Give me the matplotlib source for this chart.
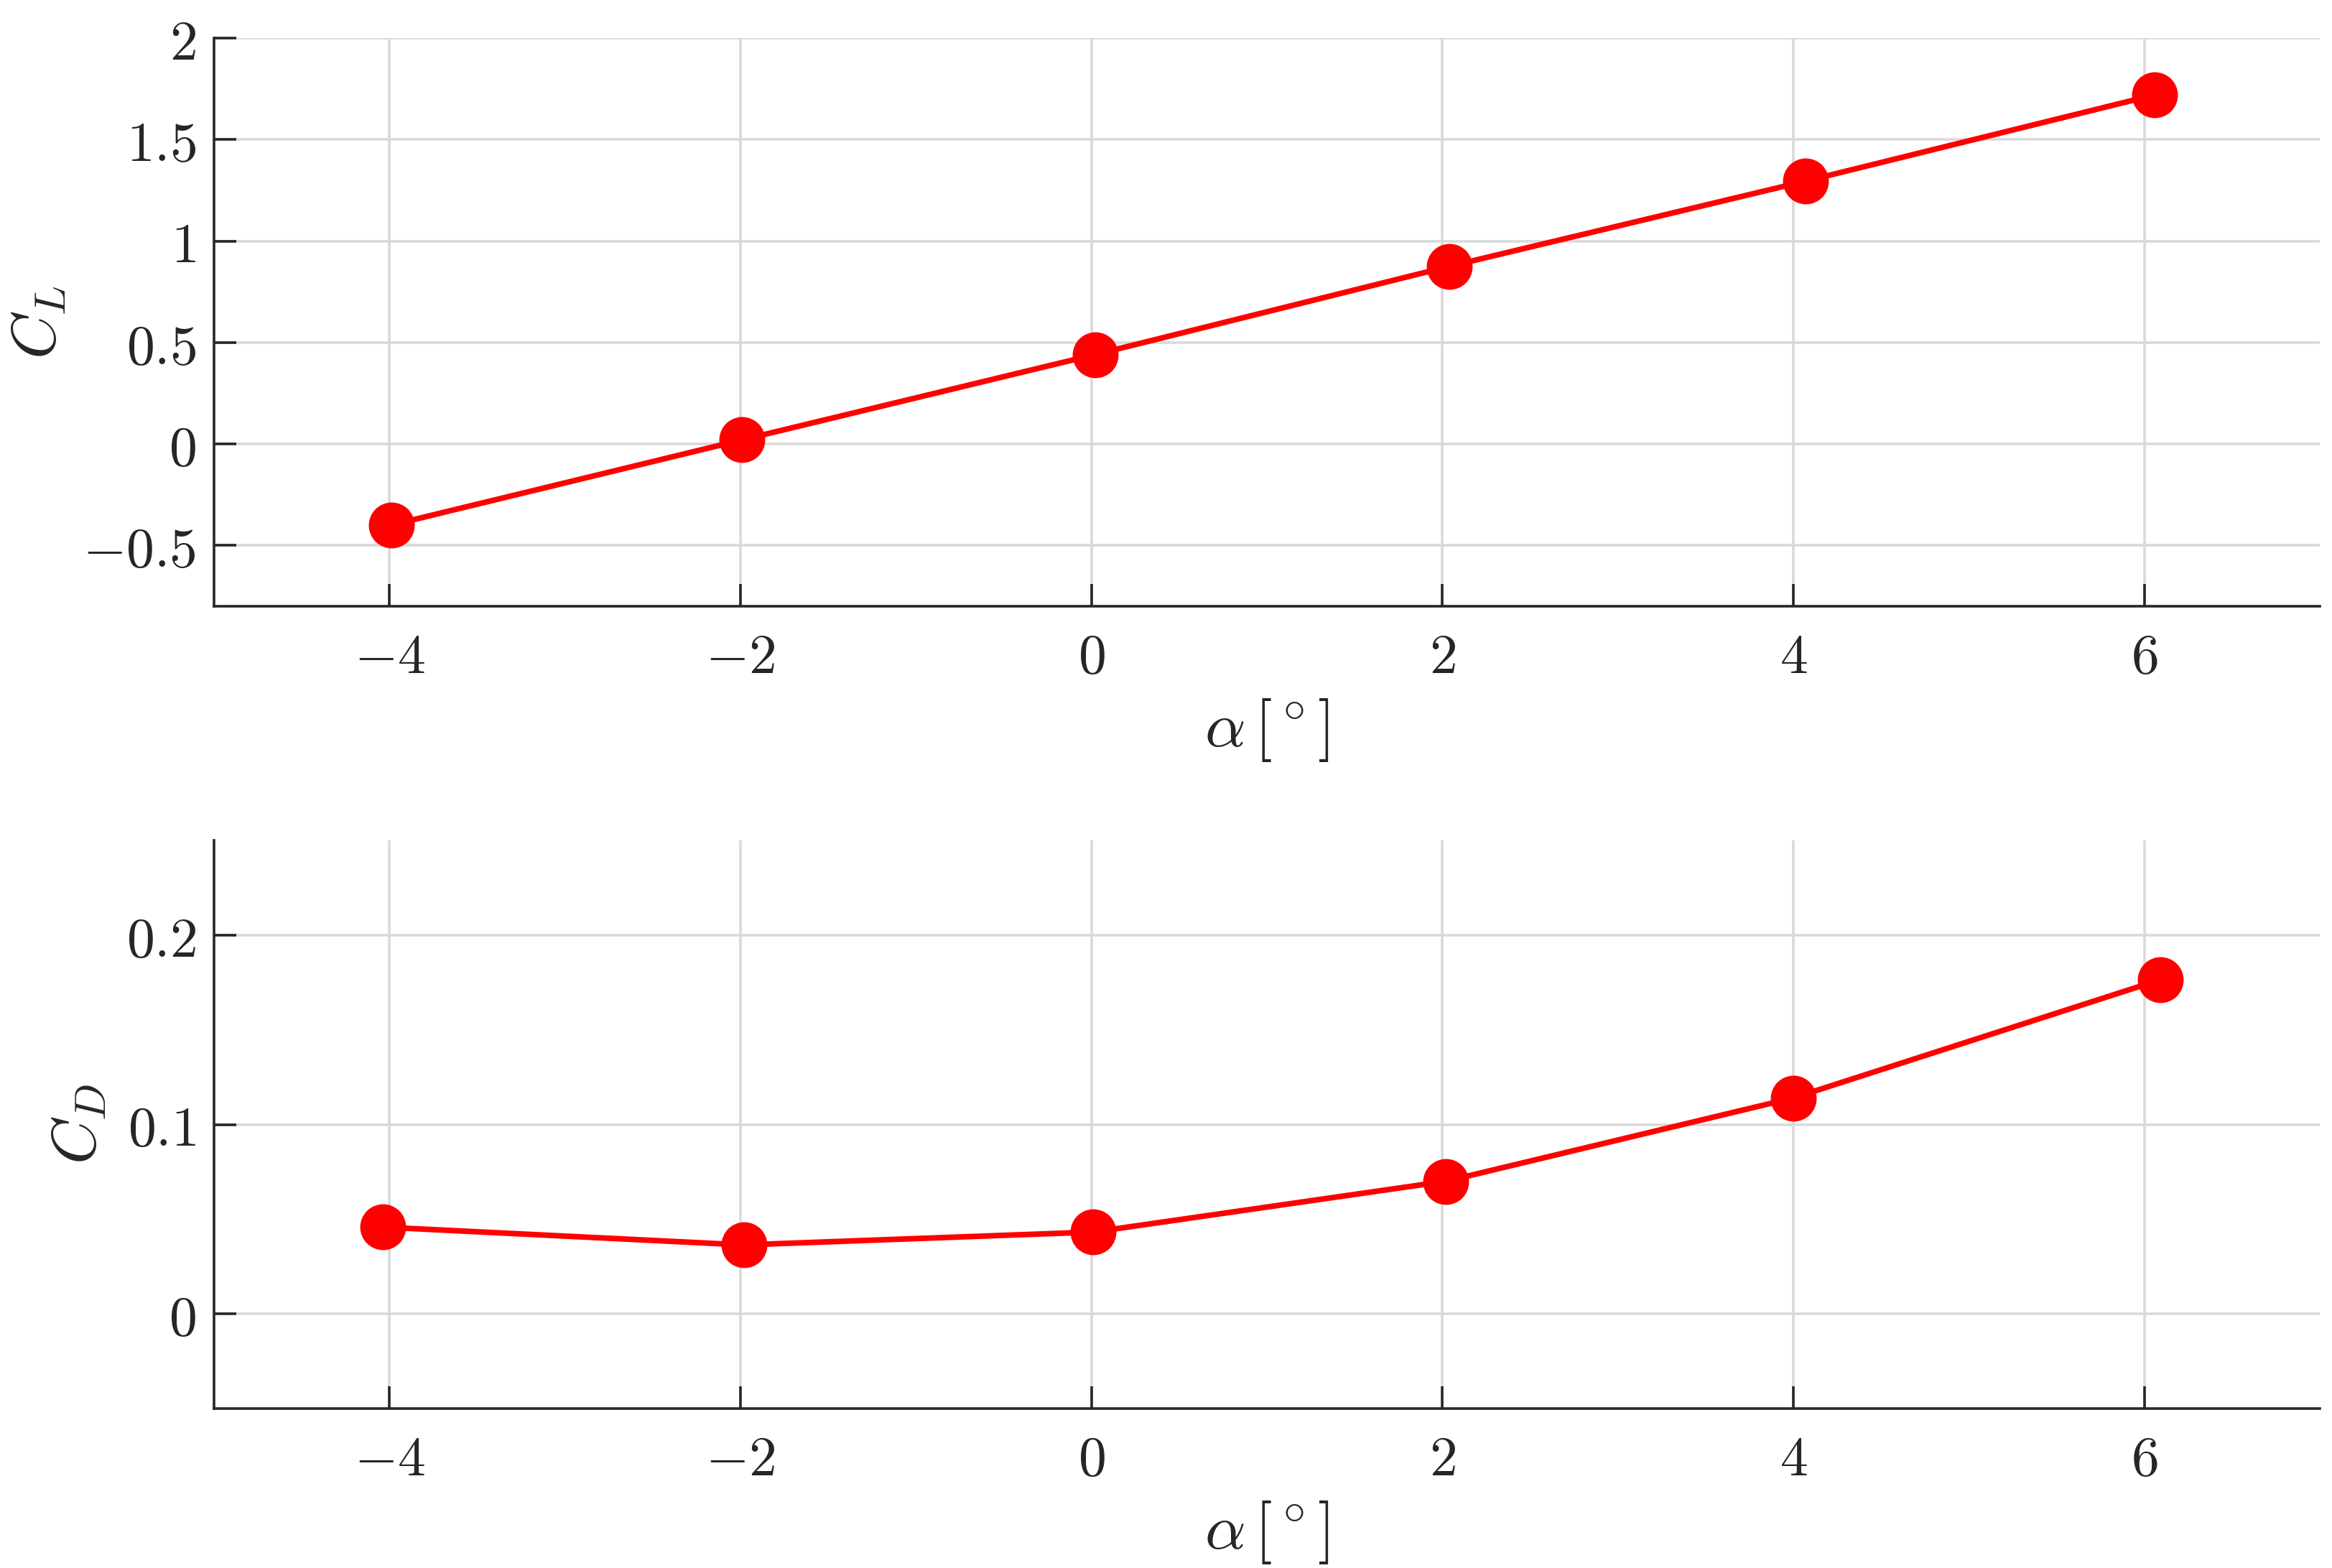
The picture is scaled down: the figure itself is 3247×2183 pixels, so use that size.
import numpy as np
import matplotlib
matplotlib.use('Agg')
import matplotlib.pyplot as plt

plt.rcParams['mathtext.fontset'] = 'cm'
plt.rcParams['font.family'] = 'serif'
plt.rcParams['font.serif'] = ['DejaVu Serif']

# lift coefficient vs angle of attack
alpha_cl = [-3.99, -1.99, 0.02, 2.04, 4.07, 6.06]
cl = [-0.40, 0.02, 0.44, 0.875, 1.295, 1.72]

# drag coefficient vs angle of attack
alpha_cd = [-4.04, -1.98, 0.01, 2.02, 4.0, 6.09]
cd = [0.0458, 0.0364, 0.0432, 0.070, 0.114, 0.1764]

x_ticks = [-4, -2, 0, 2, 4, 6]
cl_ticks = [-0.5, 0, 0.5, 1, 1.5, 2]
cd_ticks = [0, 0.1, 0.2]

W, H = 3247, 2183
dpi = 200
fig = plt.figure(figsize=(W / dpi, H / dpi), dpi=dpi)

left = 298 / W
width = (3230 - 298) / W
ax1 = fig.add_axes([left, 1 - 844 / H, width, (844 - 53) / H])
ax2 = fig.add_axes([left, 1 - 1961 / H, width, (1961 - 1170) / H])

axcol = '#262626'

def style(ax, yticks, ylim, ylabel, ylab_x):
    ax.set_xlim(-5, 7)
    ax.set_ylim(*ylim)
    ax.set_xticks(x_ticks, labels=[f'${t:g}$' for t in x_ticks])
    ax.set_yticks(yticks, labels=[f'${t:g}$' for t in yticks])
    ax.grid(True, color='#d9d9d9', linewidth=1.3)
    ax.set_axisbelow(True)
    for s in ['top', 'right']:
        ax.spines[s].set_visible(False)
    for s in ['left', 'bottom']:
        ax.spines[s].set_color(axcol)
        ax.spines[s].set_linewidth(1.3)
    ax.tick_params(direction='in', length=11, width=1.3, color=axcol,
                   labelsize=28, labelcolor=axcol)
    ax.tick_params(axis='x', pad=12)
    ax.tick_params(axis='y', pad=9)
    ax.set_xlabel(r'$\alpha\,[^\circ]$', fontsize=32, color=axcol, labelpad=6)
    ax.set_ylabel(ylabel, fontsize=31, color=axcol)
    ax.yaxis.set_label_coords(ylab_x, 0.5)

ax1.plot(alpha_cl, cl, '-o', color='#ff0000', linewidth=2.8, markersize=22)
style(ax1, cl_ticks, (-0.8, 2), r'$C_L$', -0.069)

ax2.plot(alpha_cd, cd, '-o', color='#ff0000', linewidth=2.8, markersize=22)
style(ax2, cd_ticks, (-0.05, 0.25), r'$C_D$', -0.050)

fig.savefig('out.png', dpi=dpi)
